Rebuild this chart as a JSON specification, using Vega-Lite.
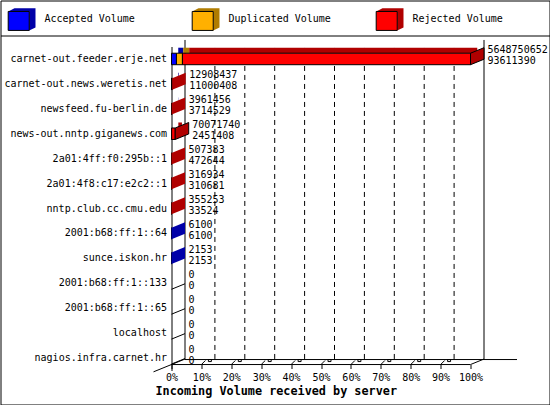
{
  "$schema": "https://vega.github.io/schema/vega-lite/v6.json",
  "width": 549,
  "height": 404,
  "autosize": {"type": "none"},
  "padding": {"left": 0.5, "top": 0.5, "right": 0.5, "bottom": 0.5},
  "background": "white",
  "config": {
    "view": {"stroke": "black", "strokeWidth": 1},
    "font": "DejaVu Sans Mono",
    "axis": {"labelFont": "DejaVu Sans Mono", "labelFontSize": 10, "labelColor": "black", "domainColor": "black", "tickColor": "black", "grid": false},
    "legend": {"labelFont": "DejaVu Sans Mono", "labelFontSize": 10, "labelColor": "black"},
    "text": {"font": "DejaVu Sans Mono", "fontSize": 10, "color": "black"}
  },
  "datasets": {
    "segments": [
      {"server": "carnet-out.feeder.erje.net", "kind": "Accepted Volume", "pct": 1.6572},
      {"server": "carnet-out.feeder.erje.net", "kind": "Duplicated Volume", "pct": 2.0},
      {"server": "carnet-out.feeder.erje.net", "kind": "Rejected Volume", "pct": 96.3428},
      {"server": "carnet-out.news.weretis.net", "kind": "Accepted Volume", "pct": 0.19474},
      {"server": "carnet-out.news.weretis.net", "kind": "Rejected Volume", "pct": 0.03378},
      {"server": "newsfeed.fu-berlin.de", "kind": "Accepted Volume", "pct": 0.065758},
      {"server": "newsfeed.fu-berlin.de", "kind": "Rejected Volume", "pct": 0.004372},
      {"server": "news-out.nntp.giganews.com", "kind": "Accepted Volume", "pct": 0.043397},
      {"server": "news-out.nntp.giganews.com", "kind": "Rejected Volume", "pct": 1.197083},
      {"server": "2a01:4ff:f0:295b::1", "kind": "Accepted Volume", "pct": 0.0083672},
      {"server": "2a01:4ff:f0:295b::1", "kind": "Rejected Volume", "pct": 0.000615},
      {"server": "2a01:4f8:c17:e2c2::1", "kind": "Accepted Volume", "pct": 0.0055},
      {"server": "2a01:4f8:c17:e2c2::1", "kind": "Rejected Volume", "pct": 0.0001107},
      {"server": "nntp.club.cc.cmu.edu", "kind": "Accepted Volume", "pct": 0.00059348},
      {"server": "nntp.club.cc.cmu.edu", "kind": "Rejected Volume", "pct": 0.0056956},
      {"server": "2001:b68:ff:1::64", "kind": "Accepted Volume", "pct": 0.00010799},
      {"server": "sunce.iskon.hr", "kind": "Accepted Volume", "pct": 0.00003811}
    ],
    "servers": [
      {"server": "carnet-out.feeder.erje.net", "total": 5648750652, "accepted": 93611390, "pct": 100, "last": "Rejected Volume"},
      {"server": "carnet-out.news.weretis.net", "total": 12908437, "accepted": 11000408, "pct": 0.22852, "last": "Rejected Volume"},
      {"server": "newsfeed.fu-berlin.de", "total": 3961456, "accepted": 3714529, "pct": 0.07013, "last": "Rejected Volume"},
      {"server": "news-out.nntp.giganews.com", "total": 70071740, "accepted": 2451408, "pct": 1.24048, "last": "Rejected Volume"},
      {"server": "2a01:4ff:f0:295b::1", "total": 507383, "accepted": 472644, "pct": 0.0089822, "last": "Rejected Volume"},
      {"server": "2a01:4f8:c17:e2c2::1", "total": 316934, "accepted": 310681, "pct": 0.0056107, "last": "Rejected Volume"},
      {"server": "nntp.club.cc.cmu.edu", "total": 355253, "accepted": 33524, "pct": 0.0062891, "last": "Rejected Volume"},
      {"server": "2001:b68:ff:1::64", "total": 6100, "accepted": 6100, "pct": 0.00010799, "last": "Accepted Volume"},
      {"server": "sunce.iskon.hr", "total": 2153, "accepted": 2153, "pct": 0.00003811, "last": "Accepted Volume"},
      {"server": "2001:b68:ff:1::133", "total": 0, "accepted": 0, "pct": 0, "last": null},
      {"server": "2001:b68:ff:1::65", "total": 0, "accepted": 0, "pct": 0, "last": null},
      {"server": "localhost", "total": 0, "accepted": 0, "pct": 0, "last": null},
      {"server": "nagios.infra.carnet.hr", "total": 0, "accepted": 0, "pct": 0, "last": null}
    ],
    "grid": [{"v": 10}, {"v": 20}, {"v": 30}, {"v": 40}, {"v": 50}, {"v": 60}, {"v": 70}, {"v": 80}, {"v": 90}],
    "walls": [{"v": 0}, {"v": 100}],
    "ticks": [{"v": 0}, {"v": 10}, {"v": 20}, {"v": 30}, {"v": 40}, {"v": 50}, {"v": 60}, {"v": 70}, {"v": 80}, {"v": 90}, {"v": 100}]
  },
  "resolve": {"axis": {"x": "independent"}},
  "layer": [
    {
      "data": {"name": "grid"},
      "mark": {"type": "rule", "color": "black", "strokeWidth": 1, "strokeDash": [5, 4], "xOffset": 13.5, "yOffset": -11, "y2Offset": 1.5},
      "encoding": {
        "x": {"field": "v", "type": "quantitative",
          "scale": {"domain": [-57.19, 126.42], "nice": false, "zero": false},
          "axis": {"orient": "bottom", "offset": -40, "values": [0, 10, 20, 30, 40, 50, 60, 70, 80, 90, 100], "labelExpr": "datum.value + '%'", "domain": false, "ticks": true, "tickSize": 4, "labelPadding": 4, "labelFlush": false, "labelOverlap": false, "labelAngle": 0,
            "title": "Incoming Volume received by server", "titleFont": "DejaVu Sans Mono", "titleFontWeight": "bold", "titleFontSize": 11.8, "titleColor": "black", "titleAlign": "left", "titleBaseline": "top", "titleX": 154.5, "titleY": 21}},
        "y": {"datum": "carnet-out.feeder.erje.net", "type": "nominal",
          "scale": {"type": "band", "domain": ["carnet-out.feeder.erje.net", "carnet-out.news.weretis.net", "newsfeed.fu-berlin.de", "news-out.nntp.giganews.com", "2a01:4ff:f0:295b::1", "2a01:4f8:c17:e2c2::1", "nntp.club.cc.cmu.edu", "2001:b68:ff:1::64", "sunce.iskon.hr", "2001:b68:ff:1::133", "2001:b68:ff:1::65", "localhost", "nagios.infra.carnet.hr"], "range": [46, 370], "paddingInner": 0, "paddingOuter": 0, "round": false},
          "axis": {"title": null, "orient": "left", "offset": -171, "ticks": false, "domain": true, "labelPadding": 5, "labelLimit": 220}},
        "y2": {"datum": "nagios.infra.carnet.hr"}
      }
    },
    {
      "data": {"name": "walls"},
      "mark": {"type": "rule", "color": "black", "strokeWidth": 1, "xOffset": 13.5, "yOffset": -19, "y2Offset": 1.5},
      "encoding": {
        "x": {"field": "v", "type": "quantitative",
          "scale": {"domain": [-57.19, 126.42], "nice": false, "zero": false},
          "axis": {"orient": "top", "offset": -35, "labels": false, "ticks": false, "domain": true, "title": null}},
        "y": {"datum": "carnet-out.feeder.erje.net", "type": "nominal",
          "scale": {"type": "band", "domain": ["carnet-out.feeder.erje.net", "carnet-out.news.weretis.net", "newsfeed.fu-berlin.de", "news-out.nntp.giganews.com", "2a01:4ff:f0:295b::1", "2a01:4f8:c17:e2c2::1", "nntp.club.cc.cmu.edu", "2001:b68:ff:1::64", "sunce.iskon.hr", "2001:b68:ff:1::133", "2001:b68:ff:1::65", "localhost", "nagios.infra.carnet.hr"], "range": [46, 370], "paddingInner": 0, "paddingOuter": 0, "round": false},
          "axis": {"title": null, "orient": "left", "offset": -171, "ticks": false, "domain": true, "labelPadding": 5, "labelLimit": 220}},
        "y2": {"datum": "nagios.infra.carnet.hr"}
      }
    },
    {
      "data": {"values": [{"from": 0, "to": 100}]},
      "mark": {"type": "rule", "color": "black", "strokeWidth": 1, "yOffset": 6.5},
      "encoding": {
        "x": {"field": "from", "type": "quantitative", "scale": {"domain": [-57.19, 126.42], "nice": false, "zero": false}, "axis": null},
        "x2": {"field": "to"},
        "y": {"datum": "nagios.infra.carnet.hr", "type": "nominal",
          "scale": {"type": "band", "domain": ["carnet-out.feeder.erje.net", "carnet-out.news.weretis.net", "newsfeed.fu-berlin.de", "news-out.nntp.giganews.com", "2a01:4ff:f0:295b::1", "2a01:4f8:c17:e2c2::1", "nntp.club.cc.cmu.edu", "2001:b68:ff:1::64", "sunce.iskon.hr", "2001:b68:ff:1::133", "2001:b68:ff:1::65", "localhost", "nagios.infra.carnet.hr"], "range": [46, 370], "paddingInner": 0, "paddingOuter": 0, "round": false},
          "axis": {"title": null, "orient": "left", "offset": -171, "ticks": false, "domain": true, "labelPadding": 5, "labelLimit": 220}}
      }
    },
    {
      "data": {"values": [{"from": 0, "to": 111.04}]},
      "mark": {"type": "rule", "color": "black", "strokeWidth": 1, "yOffset": 1.5, "xOffset": 13.5, "x2Offset": 13.5},
      "encoding": {
        "x": {"field": "from", "type": "quantitative", "scale": {"domain": [-57.19, 126.42], "nice": false, "zero": false}, "axis": null},
        "x2": {"field": "to"},
        "y": {"datum": "nagios.infra.carnet.hr", "type": "nominal",
          "scale": {"type": "band", "domain": ["carnet-out.feeder.erje.net", "carnet-out.news.weretis.net", "newsfeed.fu-berlin.de", "news-out.nntp.giganews.com", "2a01:4ff:f0:295b::1", "2a01:4f8:c17:e2c2::1", "nntp.club.cc.cmu.edu", "2001:b68:ff:1::64", "sunce.iskon.hr", "2001:b68:ff:1::133", "2001:b68:ff:1::65", "localhost", "nagios.infra.carnet.hr"], "range": [46, 370], "paddingInner": 0, "paddingOuter": 0, "round": false},
          "axis": {"title": null, "orient": "left", "offset": -171, "ticks": false, "domain": true, "labelPadding": 5, "labelLimit": 220}}
      }
    },
    {
      "data": {"name": "ticks"},
      "mark": {"type": "point", "filled": false, "stroke": "black", "strokeWidth": 1, "opacity": 1, "size": 729, "yOffset": 6.5},
      "encoding": {
        "x": {"field": "v", "type": "quantitative", "scale": {"domain": [-57.19, 126.42], "nice": false, "zero": false}, "axis": null},
        "y": {"datum": "nagios.infra.carnet.hr", "type": "nominal",
          "scale": {"type": "band", "domain": ["carnet-out.feeder.erje.net", "carnet-out.news.weretis.net", "newsfeed.fu-berlin.de", "news-out.nntp.giganews.com", "2a01:4ff:f0:295b::1", "2a01:4f8:c17:e2c2::1", "nntp.club.cc.cmu.edu", "2001:b68:ff:1::64", "sunce.iskon.hr", "2001:b68:ff:1::133", "2001:b68:ff:1::65", "localhost", "nagios.infra.carnet.hr"], "range": [46, 370], "paddingInner": 0, "paddingOuter": 0, "round": false},
          "axis": {"title": null, "orient": "left", "offset": -171, "ticks": false, "domain": true, "labelPadding": 5, "labelLimit": 220}},
        "shape": {
          "condition": [
            {"test": "datum.v === 0", "value": "M-1.333,0.541L1,-0.407"},
            {"test": "datum.v === 100", "value": "M0,0L1,-0.407"}
          ],
          "value": "M0,0L0.3,-0.3M0.52,-0.37L0.74,-0.37L0.74,-0.22L0.52,-0.22Z"
        }
      }
    },
    {
      "data": {"name": "servers"},
      "transform": [{"filter": "datum.pct === 0"}],
      "mark": {"type": "point", "filled": false, "stroke": "black", "strokeWidth": 1, "opacity": 1, "size": 729, "yOffset": 6, "shape": "M0,0L1,-0.407"},
      "encoding": {
        "x": {"datum": 0, "type": "quantitative", "scale": {"domain": [-57.19, 126.42], "nice": false, "zero": false}, "axis": null},
        "y": {"field": "server", "type": "nominal",
          "scale": {"type": "band", "domain": ["carnet-out.feeder.erje.net", "carnet-out.news.weretis.net", "newsfeed.fu-berlin.de", "news-out.nntp.giganews.com", "2a01:4ff:f0:295b::1", "2a01:4f8:c17:e2c2::1", "nntp.club.cc.cmu.edu", "2001:b68:ff:1::64", "sunce.iskon.hr", "2001:b68:ff:1::133", "2001:b68:ff:1::65", "localhost", "nagios.infra.carnet.hr"], "range": [46, 370], "paddingInner": 0, "paddingOuter": 0, "round": false},
          "axis": {"title": null, "orient": "left", "offset": -171, "ticks": false, "domain": true, "labelPadding": 5, "labelLimit": 220}}
      }
    },
    {
      "data": {"name": "segments"},
      "mark": {"type": "bar", "height": 5.5, "yOffset": -8.5, "xOffset": 6.75, "x2Offset": 6.75, "opacity": 1},
      "encoding": {
        "x": {"field": "pct", "type": "quantitative", "stack": "zero", "scale": {"domain": [-57.19, 126.42], "nice": false, "zero": false}, "axis": null},
        "y": {"field": "server", "type": "nominal",
          "scale": {"type": "band", "domain": ["carnet-out.feeder.erje.net", "carnet-out.news.weretis.net", "newsfeed.fu-berlin.de", "news-out.nntp.giganews.com", "2a01:4ff:f0:295b::1", "2a01:4f8:c17:e2c2::1", "nntp.club.cc.cmu.edu", "2001:b68:ff:1::64", "sunce.iskon.hr", "2001:b68:ff:1::133", "2001:b68:ff:1::65", "localhost", "nagios.infra.carnet.hr"], "range": [46, 370], "paddingInner": 0, "paddingOuter": 0, "round": false},
          "axis": {"title": null, "orient": "left", "offset": -171, "ticks": false, "domain": true, "labelPadding": 5, "labelLimit": 220}},
        "fill": {"field": "kind", "type": "nominal",
          "scale": {"range": ["#0000a8", "#b07c00", "#b00000"]},
          "legend": {"orient": "none", "legendX": 6.85, "legendY": 4.15, "direction": "horizontal", "columns": 3, "gridAlign": "all", "columnPadding": 42, "padding": 0, "title": null, "symbolSize": 745, "symbolType": "M-1,-0.58L-0.54,-0.81L1,-0.81L0.54,-0.58ZM0.54,-0.58L1,-0.81L1,0.59L0.54,0.81Z", "symbolStrokeColor": "black", "symbolStrokeWidth": 1, "symbolOpacity": 1, "labelOffset": 8.15, "labelOpacity": 0}}
      }
    },
    {
      "data": {"name": "segments"},
      "mark": {"type": "bar", "height": 11.5, "stroke": "black", "strokeWidth": 1, "opacity": 1},
      "encoding": {
        "x": {"field": "pct", "type": "quantitative", "stack": "zero", "scale": {"domain": [-57.19, 126.42], "nice": false, "zero": false}, "axis": null},
        "y": {"field": "server", "type": "nominal",
          "scale": {"type": "band", "domain": ["carnet-out.feeder.erje.net", "carnet-out.news.weretis.net", "newsfeed.fu-berlin.de", "news-out.nntp.giganews.com", "2a01:4ff:f0:295b::1", "2a01:4f8:c17:e2c2::1", "nntp.club.cc.cmu.edu", "2001:b68:ff:1::64", "sunce.iskon.hr", "2001:b68:ff:1::133", "2001:b68:ff:1::65", "localhost", "nagios.infra.carnet.hr"], "range": [46, 370], "paddingInner": 0, "paddingOuter": 0, "round": false},
          "axis": {"title": null, "orient": "left", "offset": -171, "ticks": false, "domain": true, "labelPadding": 5, "labelLimit": 220}},
        "color": {"field": "kind", "type": "nominal",
          "scale": {"domain": ["Accepted Volume", "Duplicated Volume", "Rejected Volume"], "range": ["#0000ff", "#ffb000", "#ff0000"]},
          "legend": {"orient": "none", "legendX": 6.85, "legendY": 4.15, "direction": "horizontal", "columns": 3, "gridAlign": "all", "columnPadding": 42, "padding": 0, "title": null, "symbolSize": 745, "symbolType": "M-1,-0.58L0.54,-0.58L0.54,0.81L-1,0.81Z", "symbolStrokeColor": "black", "symbolStrokeWidth": 1, "symbolOpacity": 1, "labelOffset": 8.15}}
      }
    },
    {
      "data": {"name": "servers"},
      "transform": [{"filter": "datum.pct > 0"}],
      "mark": {"type": "point", "filled": true, "opacity": 1, "size": 729, "strokeWidth": 1, "shape": "M0,-0.426L1,-0.833L1,0.0185L0,0.426Z"},
      "encoding": {
        "x": {"field": "pct", "type": "quantitative", "scale": {"domain": [-57.19, 126.42], "nice": false, "zero": false}, "axis": null},
        "y": {"field": "server", "type": "nominal",
          "scale": {"type": "band", "domain": ["carnet-out.feeder.erje.net", "carnet-out.news.weretis.net", "newsfeed.fu-berlin.de", "news-out.nntp.giganews.com", "2a01:4ff:f0:295b::1", "2a01:4f8:c17:e2c2::1", "nntp.club.cc.cmu.edu", "2001:b68:ff:1::64", "sunce.iskon.hr", "2001:b68:ff:1::133", "2001:b68:ff:1::65", "localhost", "nagios.infra.carnet.hr"], "range": [46, 370], "paddingInner": 0, "paddingOuter": 0, "round": false},
          "axis": {"title": null, "orient": "left", "offset": -171, "ticks": false, "domain": true, "labelPadding": 5, "labelLimit": 220}},
        "fill": {"field": "last", "type": "nominal",
          "scale": {"range": ["#0000a8", "#b07c00", "#b00000"]}},
        "stroke": {"condition": {"test": "datum.pct > 1", "value": "black"}, "value": "transparent"}
      }
    },
    {
      "data": {"name": "servers"},
      "mark": {"type": "text", "align": "left", "baseline": "middle", "dx": 17, "dy": -8.5, "font": "DejaVu Sans Mono", "fontSize": 10, "color": "black"},
      "encoding": {
        "x": {"field": "pct", "type": "quantitative", "scale": {"domain": [-57.19, 126.42], "nice": false, "zero": false}, "axis": null},
        "y": {"field": "server", "type": "nominal",
          "scale": {"type": "band", "domain": ["carnet-out.feeder.erje.net", "carnet-out.news.weretis.net", "newsfeed.fu-berlin.de", "news-out.nntp.giganews.com", "2a01:4ff:f0:295b::1", "2a01:4f8:c17:e2c2::1", "nntp.club.cc.cmu.edu", "2001:b68:ff:1::64", "sunce.iskon.hr", "2001:b68:ff:1::133", "2001:b68:ff:1::65", "localhost", "nagios.infra.carnet.hr"], "range": [46, 370], "paddingInner": 0, "paddingOuter": 0, "round": false},
          "axis": {"title": null, "orient": "left", "offset": -171, "ticks": false, "domain": true, "labelPadding": 5, "labelLimit": 220}},
        "text": {"field": "total", "type": "quantitative", "format": "d"}
      }
    },
    {
      "data": {"name": "servers"},
      "mark": {"type": "text", "align": "left", "baseline": "middle", "dx": 17, "dy": 2.5, "font": "DejaVu Sans Mono", "fontSize": 10, "color": "black"},
      "encoding": {
        "x": {"field": "pct", "type": "quantitative", "scale": {"domain": [-57.19, 126.42], "nice": false, "zero": false}, "axis": null},
        "y": {"field": "server", "type": "nominal",
          "scale": {"type": "band", "domain": ["carnet-out.feeder.erje.net", "carnet-out.news.weretis.net", "newsfeed.fu-berlin.de", "news-out.nntp.giganews.com", "2a01:4ff:f0:295b::1", "2a01:4f8:c17:e2c2::1", "nntp.club.cc.cmu.edu", "2001:b68:ff:1::64", "sunce.iskon.hr", "2001:b68:ff:1::133", "2001:b68:ff:1::65", "localhost", "nagios.infra.carnet.hr"], "range": [46, 370], "paddingInner": 0, "paddingOuter": 0, "round": false},
          "axis": {"title": null, "orient": "left", "offset": -171, "ticks": false, "domain": true, "labelPadding": 5, "labelLimit": 220}},
        "text": {"field": "accepted", "type": "quantitative", "format": "d"}
      }
    }
  ]
}
